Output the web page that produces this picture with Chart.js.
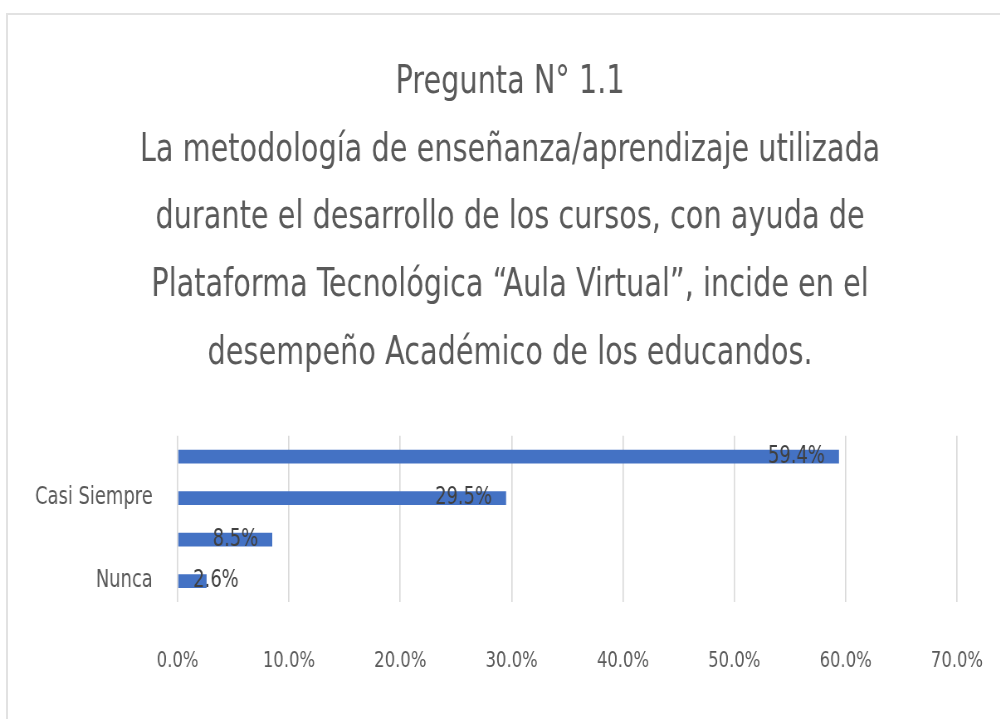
<!DOCTYPE html>
<html>
<head>
<meta charset="utf-8">
<script src="https://cdn.jsdelivr.net/npm/chart.js@4/dist/chart.umd.min.js"></script>
<style>
  html, body { margin: 0; padding: 0; background: #fff; overflow: hidden; }
  #frame { position: absolute; left: 6px; top: 13px; width: 1100px; height: 800px; border: 2px solid #e2e2e2; }
  /* el gráfico original se ve comprimido en horizontal */
  #wrap { position: absolute; left: 0; top: 0; width: 1205px; height: 719px; transform: scaleX(0.83); transform-origin: 0 0; }
</style>
</head>
<body>
<div id="frame"></div>
<div id="wrap"><canvas id="chart"></canvas></div>
<script>
// datos de la pregunta 1.1
const categorias = ['Siempre', 'Casi Siempre', 'A veces', 'Nunca'];
const porcentajes = [59.4, 29.5, 8.5, 2.6];
const ticksX = [0, 10, 20, 30, 40, 50, 60, 70];
const titulo = [
  'Pregunta N° 1.1',
  'La metodología de enseñanza/aprendizaje utilizada',
  'durante el desarrollo de los cursos, con ayuda de',
  'Plataforma Tecnológica “Aula Virtual”, incide en el',
  'desempeño Académico de los educandos.'
];

const FONT = "'Liberation Sans Narrow', 'DejaVu Sans Condensed', 'Liberation Sans', sans-serif";

// etiquetas de datos al final de cada barra
const etiquetas = {
  id: 'etiquetas',
  afterDatasetsDraw(chart) {
    const ctx = chart.ctx;
    const meta = chart.getDatasetMeta(0);
    ctx.save();
    ctx.font = '24px ' + FONT;
    ctx.fillStyle = '#404040';
    ctx.textBaseline = 'middle';
    ctx.textAlign = 'left';
    meta.data.forEach((bar, i) => {
      const txt = porcentajes[i].toFixed(1) + '%';
      const w = ctx.measureText(txt).width;
      let x = bar.x - 17 - w;
      if (x < bar.base + 18) x = bar.base + 18;
      ctx.fillText(txt, x, bar.y);
    });
    ctx.restore();
  }
};

const ctx = document.getElementById('chart').getContext('2d');
new Chart(ctx, {
  type: 'bar',
  data: {
    labels: categorias,
    datasets: [{
      data: porcentajes,
      backgroundColor: '#4472C4',
      barPercentage: 0.5,
      categoryPercentage: 0.66
    }]
  },
  plugins: [etiquetas],
  options: {
    indexAxis: 'y',
    responsive: true,
    maintainAspectRatio: false,
    animation: false,
    layout: { padding: { left: 36, right: 12, top: 0, bottom: 0 } },
    plugins: {
      legend: { display: false },
      tooltip: { enabled: false },
      title: {
        display: true,
        text: titulo,
        color: '#595959',
        font: { family: FONT, size: 38.5, weight: 'normal', lineHeight: 1.76 },
        padding: { top: 49, bottom: 48 }
      }
    },
    scales: {
      x: {
        min: 0,
        max: 70,
        afterBuildTicks: (scale) => { scale.ticks = ticksX.map(v => ({ value: v })); },
        grid: { color: '#d9d9d9', lineWidth: 1.6, drawTicks: false },
        border: { display: false },
        ticks: {
          color: '#595959',
          padding: 46,
          maxRotation: 0,
          font: { family: FONT, size: 22 },
          callback: (v) => Number(v).toFixed(1) + '%'
        },
        afterFit: (scale) => {
          scale.height = 117;
          scale.paddingLeft = 0;
          scale.paddingRight = 52;
        }
      },
      y: {
        grid: { display: false },
        border: { display: false },
        ticks: {
          color: '#595959',
          padding: 22,
          autoSkip: false,
          font: { family: FONT, size: 24 },
          callback: function (v, i) { return i % 2 === 1 ? categorias[i] : ''; }
        },
        afterFit: (scale) => { scale.width = 178; }
      }
    }
  }
});
</script>
</body>
</html>
